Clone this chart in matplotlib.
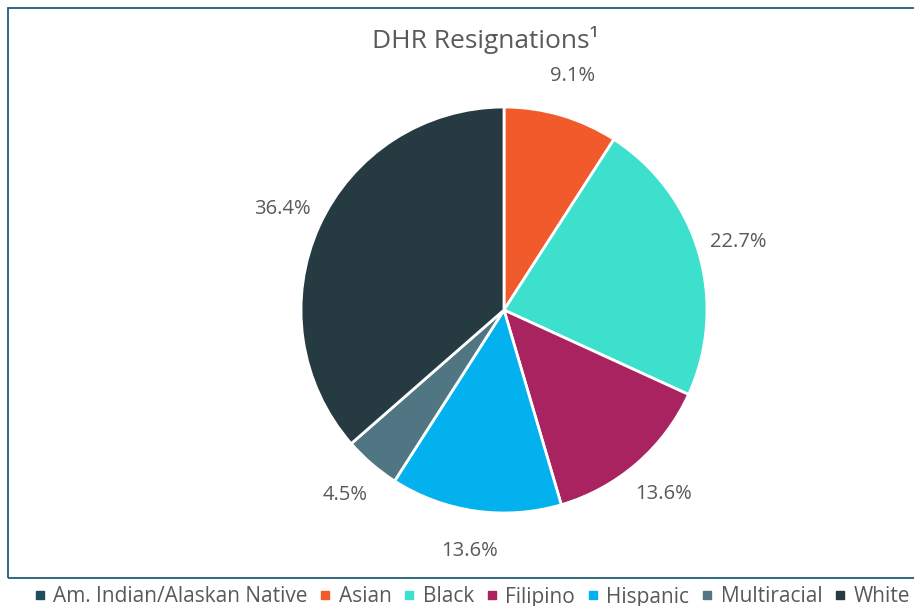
import matplotlib.pyplot as plt
from matplotlib.patches import Rectangle
from matplotlib.lines import Line2D

categories = ["Am. Indian/Alaskan Native", "Asian", "Black", "Filipino",
              "Hispanic", "Multiracial", "White"]
shares = [0.0, 9.1, 22.7, 13.6, 13.6, 4.5, 36.4]
colors = ["#1E4D5C", "#F15A2B", "#3DE0CC", "#A8235F", "#03B1EF", "#507684", "#263A42"]

text_color = "#595959"
plt.rcParams['font.family'] = ['Open Sans', 'DejaVu Sans']

fig = plt.figure(figsize=(9.14, 6.06), dpi=100)

# outer frame, runs off the right edge like the original
frame = Rectangle((8 / 914, 1 - 578 / 606), 1.2, (578 - 8) / 606,
                  transform=fig.transFigure, fill=False,
                  edgecolor="#1F5F73", linewidth=1.3)
fig.patches.append(frame)

cx, cy, r = 504, 310, 203
ax = fig.add_axes([(cx - r) / 914, (606 - cy - r) / 606, 2 * r / 914, 2 * r / 606])


def fmt(p):
    return "" if p < 0.5 else f"{p:.1f}%"


wedges, texts, autotexts = ax.pie(
    shares, colors=colors, startangle=90, counterclock=False,
    autopct=fmt, pctdistance=1.2,
    wedgeprops=dict(edgecolor="white", linewidth=2),
    textprops=dict(color=text_color, fontsize=14.5))
ax.set_xlim(-1, 1)
ax.set_ylim(-1, 1)
ax.set_aspect("equal")
ax.axis("off")

fig.text(485 / 914, 1 - 40 / 606, "DHR Resignations\u00b9", ha="center", va="center",
         fontsize=19, color=text_color)

handles = [Line2D([], [], marker="s", linestyle="", markersize=6,
                  markerfacecolor=c, markeredgecolor=c) for c in colors]
fig.legend(handles, categories, loc="center left", bbox_to_anchor=(26 / 914, 1 - 597 / 606),
           ncol=7, frameon=False, fontsize=15, handlelength=0.5, handletextpad=0.4,
           columnspacing=0.6, labelcolor=text_color, borderaxespad=0)

fig.savefig("out.png", dpi=100)
